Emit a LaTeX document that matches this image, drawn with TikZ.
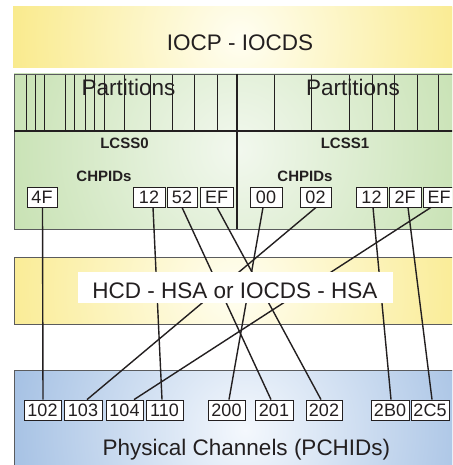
\documentclass[tikz,border=0pt]{standalone}
\usepackage{fontspec}
\setmainfont{Liberation Sans}
\definecolor{ink}{HTML}{231F20}
\definecolor{frame}{HTML}{5A5B5D}
\definecolor{yel}{HTML}{F8E677}
\definecolor{yelc}{HTML}{FFFEF2}
\definecolor{grn}{HTML}{B9DA9F}
\definecolor{grnc}{HTML}{F2F8EE}
\definecolor{blu}{HTML}{8AAEDB}
\definecolor{bluc}{HTML}{F4F8FD}
\begin{document}
\begin{tikzpicture}[x=1pt,y=-1pt,
  idbox/.style={draw=ink, fill=white, line width=0.8pt, inner sep=0pt,
    minimum height=20pt, font=\fontsize{18}{18}\selectfont,
    text height=12.9pt, text depth=0pt, text=ink},
  bigtext/.style={anchor=base, inner sep=0pt, text=ink, font=\fontsize{22.5}{27}\selectfont},
  smalltext/.style={anchor=base, inner sep=0pt, text=ink, font=\fontsize{15}{18}\selectfont\bfseries},
  link/.style={draw=ink, line width=1.4pt},
  regionframe/.style={draw=frame, line width=0.9pt},
  partline/.style={draw=ink, line width=0.6pt}]
\useasboundingbox (0,0) rectangle (452,465);
\clip (0,0) rectangle (452,465);
\fill[white] (0,0) rectangle (452,465);

% top band
\begin{scope}
  \clip (13,7) rectangle (470,68);
  \fill[yel] (13,7) rectangle (470,68);
  \shade[inner color=yelc, outer color=yel] (240,38) circle (280);
\end{scope}
\node[bigtext] (iocp) at (240,50.5) {IOCP - IOCDS};

% green region
\begin{scope}
  \clip (14,74) rectangle (470,229);
  \fill[grn] (14,74) rectangle (470,229);
  \shade[inner color=grnc, outer color=grn] (237,150) circle (320);
\end{scope}
\foreach \x in {26,35,44,65,74,85,94,104,124,150,172,194,217,274,311,349,372,394,417,438}
  \draw[partline] (\x,74) -- (\x,131);
\draw[regionframe] (470,74) -- (14,74) -- (14,229) -- (470,229);
\draw[ink, line width=1.3pt] (14,131) -- (470,131);
\draw[ink, line width=2.4pt] (237,74) -- (237,229);
\node[bigtext] (partL) at (128.5,96) {Partitions};
\node[bigtext] (partR) at (353,96) {Partitions};
\node[smalltext] (lcss0) at (124.5,149) {LCSS0};
\node[smalltext] (lcss1) at (345,149) {LCSS1};
\node[smalltext] (chpL) at (104,181) {CHPIDs};
\node[smalltext] (chpR) at (305,181) {CHPIDs};

% CHPID boxes
\node[idbox, minimum width=30pt] (c4F) at (42,197) {4F};
\node[idbox, minimum width=32pt] (c12a) at (149,197) {12};
\node[idbox, minimum width=30pt] (c52) at (182,197) {52};
\node[idbox, minimum width=33pt] (cEFa) at (216.5,197) {EF};
\node[idbox, minimum width=32pt] (c00) at (266,197) {00};
\node[idbox, minimum width=31pt] (c02) at (315.5,197) {02};
\node[idbox, minimum width=31pt] (c12b) at (371.5,197) {12};
\node[idbox, minimum width=32pt] (c2F) at (405,197) {2F};
\node[idbox, minimum width=32pt] (cEFb) at (439,197) {EF};

% middle band
\begin{scope}
  \clip (14,257) rectangle (470,324);
  \fill[yel] (14,257) rectangle (470,324);
  \shade[inner color=yelc, outer color=yel] (235,290) circle (300);
\end{scope}
\draw[regionframe] (470,257) -- (14,257) -- (14,324) -- (470,324);

% blue region
\begin{scope}
  \clip (14,370) rectangle (470,470);
  \fill[blu] (14,370) rectangle (470,470);
  \shade[inner color=bluc, outer color=blu] (245,430) circle (320);
\end{scope}
\draw[regionframe] (470,370) -- (14,370) -- (14,470);
\node[bigtext] (phys) at (246.5,455) {Physical Channels (PCHIDs)};

% PCHID boxes
\node[idbox, minimum width=37pt] (p102) at (42.5,410) {102};
\node[idbox, minimum width=38pt] (p103) at (83,410) {103};
\node[idbox, minimum width=37pt] (p104) at (124.5,410) {104};
\node[idbox, minimum width=37pt] (p110) at (164.5,410) {110};
\node[idbox, minimum width=37pt] (p200) at (226.5,410) {200};
\node[idbox, minimum width=38pt] (p201) at (274,410) {201};
\node[idbox, minimum width=36pt] (p202) at (324,410) {202};
\node[idbox, minimum width=38pt] (p2B0) at (390,410) {2B0};
\node[idbox, minimum width=38pt] (p2C5) at (430,410) {2C5};

% connectors
\draw[link] ([xshift=0.5pt]c4F.south) -- ([xshift=0.5pt]p102.north);
\draw[link] ([xshift=4pt]c12a.south) -- ([xshift=-2.5pt]p110.north);
\draw[link] (c52.south) -- ([xshift=-3pt]p201.north);
\draw[link] ([xshift=0.5pt]cEFa.south) -- ([xshift=-3pt]p202.north);
\draw[link] ([xshift=-3pt]c00.south) -- ([xshift=2.5pt]p200.north);
\draw[link] ([xshift=0.5pt]c02.south) -- ([xshift=4pt]p103.north);
\draw[link] ([xshift=-8pt]cEFb.south) -- ([xshift=9.5pt]p104.north);
\draw[link] ([xshift=1.5pt]c12b.south) -- ([xshift=1pt]p2B0.north);
\draw[link] ([xshift=3pt]c2F.south) -- ([xshift=2pt]p2C5.north);

% label box over the connectors
\node[fill=white, minimum width=315pt, minimum height=31pt, inner sep=0pt] (hsabox) at (235.5,287.5) {};
\node[bigtext] (hsa) at (235,298) {HCD - HSA or IOCDS - HSA};
\end{tikzpicture}
\end{document}
